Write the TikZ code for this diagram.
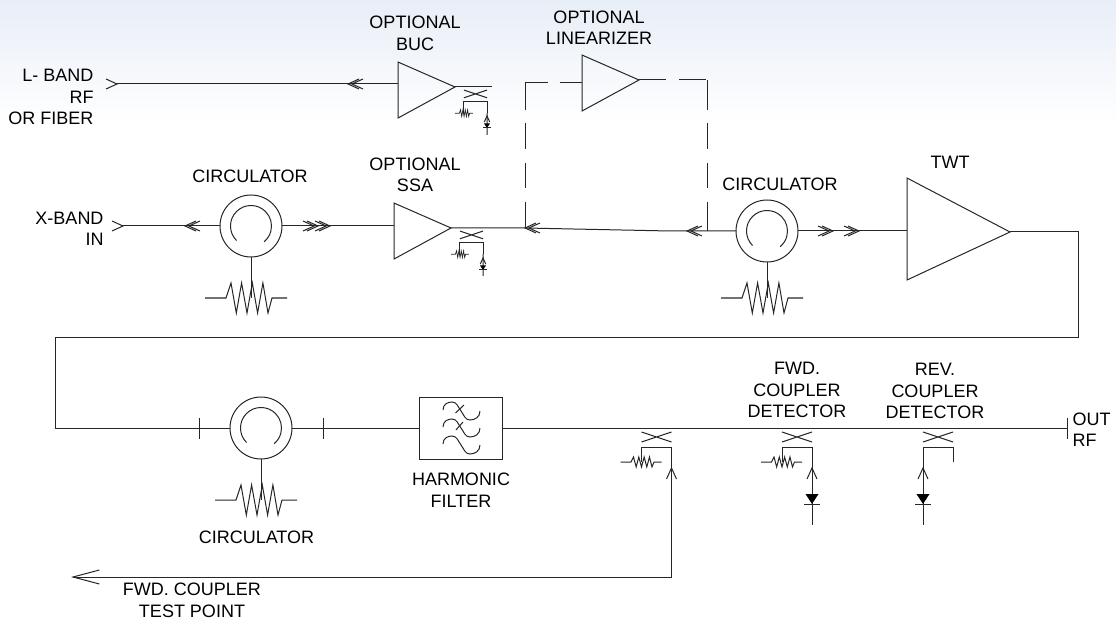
\documentclass[tikz,border=0pt]{standalone}
\usepackage{fontspec}
\setmainfont{Liberation Sans}
\usetikzlibrary{shapes.geometric}
\definecolor{skytop}{RGB}{232,238,247}
\begin{document}
\begin{tikzpicture}[x=1pt, y=-1pt, line width=1pt,
  wire/.style={draw=black!85},
  lab/.style={font=\fontsize{18}{21.5}\selectfont, align=center, inner sep=0pt},
  amp/.style={draw=black!85, shape=isosceles triangle, isosceles triangle stretches,
    inner sep=0pt, outer sep=0pt, minimum height=57pt, minimum width=56pt,
    anchor=apex, transform shape, yslant=#1},
  amp/.default=0.053,
  circ/.style={draw=black!85, circle, inner sep=0pt, outer sep=0pt, minimum size=62pt,
    path picture={\draw[black!85] ([shift={(225:20.5pt)}]path picture bounding box.center)
      arc[start angle=225, end angle=-50, radius=20.5pt];}},
  filt/.style={draw=black!85, rectangle, inner sep=0pt, outer sep=0pt,
    minimum width=83pt, minimum height=62pt},
  chev/.pic={\draw[wire] (-11,-5) -- (0,0) -- (-11,5);},
  dchev/.pic={\draw[wire] (-11,-5) -- (0,0) -- (-11,5) (-15,-5) -- (-4,0) -- (-15,5);},
  tick/.pic={\draw[wire] (0,-10.5) -- (0,10.5);},
  resistor/.pic={\draw[wire] (-46,0) -- (-25,0) -- (-20,-15) -- (-14.7,15) -- (-9.4,-15) -- (-4,15)
    -- (1.3,-15) -- (6.6,15) -- (11.9,-15) -- (17,15) -- (21,0) -- (36,0);},
  coupler/.pic={
    \draw[wire] (-15,4) -- (15,14) (-15,14) -- (15,4);
    \draw[wire] (-15,34) -- (-15,19) -- (15,19) -- (15,34);
    \coordinate (-l) at (-15,34);
    \coordinate (-r) at (15,34);},
  diode/.pic={
    \fill[black] (-6.5,-10) -- (6.5,-10) -- (0,0) -- cycle;
    \draw[wire] (-8,0) -- (8,0);},
  wave/.pic={
    \draw[wire] (-18,-1) .. controls (-18,-7) and (-13,-9) .. (-9,-9) .. controls (-4,-9) and (-3,-4) .. (0,0)
      .. controls (3,4) and (4,9) .. (9,9) .. controls (14,9) and (19,6) .. (19,0);}]
  \useasboundingbox (0,0) rectangle (1116,620);
  \shade[top color=skytop, bottom color=white] (0,0) rectangle (1116,125);

  \node[lab] (buclab) at (415,33.5) {OPTIONAL\\BUC};
  \node[lab] (linlab) at (599,27.5) {OPTIONAL\\LINEARIZER};
  \node[lab, align=right, anchor=east] (lbandlab) at (94,97) {L- BAND\\RF\\OR FIBER};
  \node[lab, align=right, anchor=east] (xbandlab) at (104,229) {X-BAND\\IN};
  \node[lab] (circalab) at (250,176) {CIRCULATOR};
  \node[lab] (ssalab) at (415,175) {OPTIONAL\\SSA};
  \node[lab] (circblab) at (780,184) {CIRCULATOR};
  \node[lab] (twtlab) at (950,162) {TWT};
  \node[lab] (fwdlab) at (797,390) {FWD.\\COUPLER\\DETECTOR};
  \node[lab] (revlab) at (935,391) {REV.\\COUPLER\\DETECTOR};
  \node[lab, align=left, anchor=west] (outlab) at (1072,429.5) {OUT\\RF};
  \node[lab] (filtlab) at (461,490) {HARMONIC\\FILTER};
  \node[lab] (circclab) at (256.5,537) {CIRCULATOR};
  \node[lab] (testlab) at (192,600.5) {FWD. COUPLER\\TEST POINT};

  \node[amp] (buc) at (455,87) {};
  \node[amp] (ssa) at (451,228) {};
  \node[amp] (lin) at (639,80) {};
  \node[amp=-0.029, minimum height=103pt, minimum width=102pt] (twt) at (1010,232) {};
  \node[circ] (circa) at (251,226) {};
  \node[circ] (circb) at (767,231) {};
  \node[circ] (circc) at (261,428) {};
  \node[filt] (filt) at (461,428) {};

  \coordinate (lband) at (117,84);
  \coordinate (xband) at (123,226);
  \coordinate (jssa) at (525,228);
  \coordinate (jout) at (707.5,231);
  \coordinate (kink) at (670,231);
  \coordinate (corl) at (525,83);
  \coordinate (corr) at (707.5,80);
  \coordinate (ne) at (1078,337);
  \coordinate (sw) at (55,337);
  \coordinate (west) at (55,428);
  \coordinate (outrf) at (1067,428);
  \coordinate (tp) at (73,577);
  \coordinate (resa) at (251,298);
  \coordinate (resb) at (767,298);
  \coordinate (resc) at (261,500);

  \draw[wire] (lband) -- (lband -| buc.west);
  \draw[wire] (xband) -- (circa.west);
  \draw[wire] (circa.east) -- (circa.east -| ssa.west);
  \draw[wire] (buc.apex) -- (492,87);
  \draw[wire] (ssa.apex) -- (jssa) -- (kink) -- (circb.west);
  \draw[wire] (circb.east) -- (circb.east -| twt.west);
  \draw[wire] (twt.apex) -- (twt.apex -| ne) -- (ne) -- (sw) -- (west) -- (circc.west);
  \draw[wire] (circc.east) -- (filt.west);
  \draw[wire] (filt.east) -- (outrf);
  \draw[wire, dash pattern=on 27pt off 13pt on 26pt off 14pt on 25pt off 14pt on 26pt] (corl) -- (jssa);
  \draw[wire, dash pattern=on 30pt off 13pt on 26pt off 14pt on 25pt off 14pt on 29pt] (corr) -- (jout);
  \draw[wire, dash pattern=on 23pt off 12pt] (corl) -- (corl -| lin.west);
  \draw[wire, dash pattern=on 27pt off 13pt] (lin.apex) -- (corr);
  \draw[wire] (circa.south) -- (resa);
  \draw[wire] (circb.south) -- (resb);
  \draw[wire] (circc.south) -- (resc);

  \pic at (resa) {resistor};
  \pic at (resb) {resistor};
  \pic at (resc) {resistor};
  \pic at (lband) {chev};
  \pic at (xband) {chev};
  \pic[rotate=180] at (348,84) {dchev};
  \pic[rotate=180] at (185,226) {dchev};
  \pic at (318,226) {dchev};
  \pic at (330,226) {dchev};
  \pic[rotate=180] at (jssa) {dchev};
  \pic[rotate=180] at (687,231) {dchev};
  \pic at (833,231) {dchev};
  \pic at (859,231) {dchev};
  \pic at (199,428) {tick};
  \pic at (323,428) {tick};
  \pic at (outrf) {tick};
  \pic at (461,411) {wave};
  \pic at (461,428) {wave};
  \pic at (461,445) {wave};
  \draw[wire] (455.5,413) -- (464,405);
  \draw[wire] (456,430) -- (463,422);

  \pic[scale=.77] (cpa) at (475.5,87) {coupler};
  \pic[scale=.77] (cpb) at (471.5,228) {coupler};
  \pic (cpc) at (656.5,428) {coupler};
  \pic (cpd) at (797,428) {coupler};
  \pic (cpe) at (938,428) {coupler};

  \pic[scale=.22, line width=.7pt] at ([xshift=1pt]cpa-l) {resistor};
  \pic[scale=.22, line width=.7pt] at ([xshift=1pt]cpb-l) {resistor};
  \pic[xscale=.5, yscale=.33] at ([xshift=2pt]cpc-l) {resistor};
  \pic[xscale=.5, yscale=.33] at ([xshift=2pt]cpd-l) {resistor};

  \draw[wire] (cpa-r) -- (487,135);
  \draw[wire] (cpb-r) -- (483,276);
  \pic[rotate=90, scale=.55] at (487,116) {chev};
  \pic[rotate=90, scale=.55] at (483,258) {chev};
  \pic[scale=.45] at (487,128) {diode};
  \pic[scale=.45] at (483,270) {diode};

  \draw[wire] (cpc-r) -- (cpc-r |- tp) -- (tp);
  \pic[rotate=90] at (671.5,468) {chev};
  \pic[rotate=180, xscale=2.4, yscale=1.4] at (tp) {chev};

  \draw[wire] (cpd-r) -- (812,525);
  \draw[wire] (cpe-l) -- (923,525);
  \pic[rotate=90] at (812,468) {chev};
  \pic[rotate=90] at (923,468) {chev};
  \pic at (812,504) {diode};
  \pic at (923,504) {diode};
\end{tikzpicture}
\end{document}
